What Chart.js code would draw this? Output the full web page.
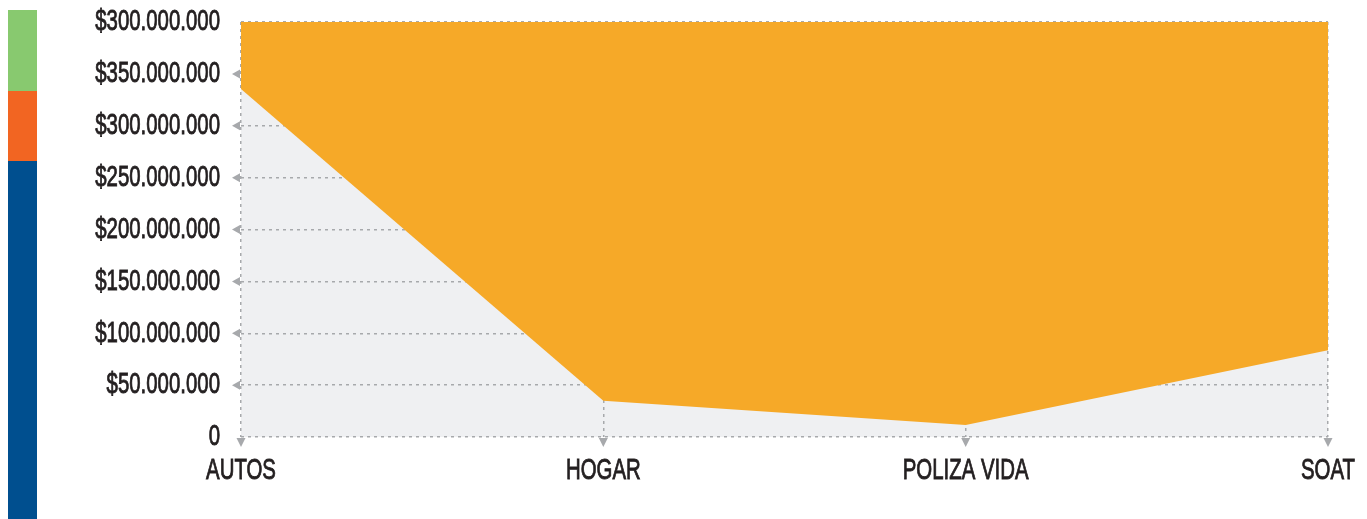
<!DOCTYPE html>
<html>
<head>
<meta charset="utf-8">
<script src="https://cdn.jsdelivr.net/npm/chart.js@4/dist/chart.umd.min.js"></script>
<style>
    html, body { margin: 0; padding: 0; background: #fff; }
    #wrap { position: relative; width: 1367px; height: 519px; }
    #side { position: absolute; left: 8px; top: 10px; width: 29px; height: 509px; }
    #side div { width: 100%; }
    #chartBox { position: absolute; left: 0; top: 0; width: 1367px; height: 519px; }
</style>
</head>
<body>
<div id="wrap">
    <div id="side">
        <div style="height:81px;background:#88c96f"></div>
        <div style="height:70px;background:#f26522"></div>
        <div style="height:358px;background:#004f8f"></div>
    </div>
    <div id="chartBox"><canvas id="areaChart"></canvas></div>
</div>
<script>
// --------------------------------------------------
//  DATA
// --------------------------------------------------
const categories = ["AUTOS", "HOGAR", "POLIZA VIDA", "SOAT"];
const premiumValues = [335500000, 35000000, 11600000, 83500000];
const yTickLabels = [
    "0", "$50.000.000", "$100.000.000", "$150.000.000", "$200.000.000",
    "$250.000.000", "$300.000.000", "$350.000.000", "$300.000.000"
];

const fontFamily = "'Liberation Sans', Arial, sans-serif";
const gridColor = "#a7a9ac";
const textSqueeze = 0.68;   // condensed look for the labels

// --------------------------------------------------
//  PLUGINS: plot background, arrow markers, narrow text
// --------------------------------------------------
const plotBackground = {
    id: "plotBackground",
    beforeDraw(chart) {
        const { ctx, chartArea: a } = chart;
        ctx.save();
        ctx.fillStyle = "#eff0f2";
        ctx.fillRect(a.left, a.top, a.right - a.left, a.bottom - a.top);
        ctx.restore();
    }
};

const narrowText = {
    id: "narrowText",
    beforeDraw(chart) {
        const ctx = chart.ctx;
        if (ctx._narrowed) return;
        const origFill = ctx.fillText;
        const origStroke = ctx.strokeText;
        ctx.fillText = function (t, x, y) {
            this.save();
            this.translate(x, y);
            this.scale(textSqueeze, 1);
            origFill.call(this, t, 0, 0);
            // a thin stroke gives the heavier weight of the original face
            this.strokeStyle = this.fillStyle;
            this.lineWidth = 0.9;
            this.setLineDash([]);
            origStroke.call(this, t, 0, 0);
            this.restore();
        };
        ctx._narrowed = true;
    }
};

const axisArrows = {
    id: "axisArrows",
    afterDraw(chart) {
        const { ctx, chartArea: a, scales } = chart;
        ctx.save();
        ctx.fillStyle = gridColor;
        // left arrows on value ticks
        scales.y.ticks.forEach((t, i) => {
            if (i === 0 || i === scales.y.ticks.length - 1) return;
            const y = scales.y.getPixelForTick(i);
            ctx.beginPath();
            ctx.moveTo(a.left - 9, y);
            ctx.lineTo(a.left - 1, y - 4.5);
            ctx.lineTo(a.left - 1, y + 4.5);
            ctx.closePath();
            ctx.fill();
        });
        // down arrows on categories
        scales.x.ticks.forEach((t, i) => {
            const x = scales.x.getPixelForTick(i);
            ctx.beginPath();
            ctx.moveTo(x - 4.5, a.bottom + 1);
            ctx.lineTo(x + 4.5, a.bottom + 1);
            ctx.lineTo(x, a.bottom + 10);
            ctx.closePath();
            ctx.fill();
        });
        ctx.restore();
    }
};

// --------------------------------------------------
//  CHART
// --------------------------------------------------
const tickFont = { family: fontFamily, size: 30 };

new Chart(document.getElementById("areaChart"), {
    type: "line",
    data: {
        labels: categories,
        datasets: [{
            data: premiumValues,
            fill: "end",
            backgroundColor: "#f6a928",
            borderWidth: 0,
            pointRadius: 0,
            tension: 0
        }]
    },
    options: {
        responsive: true,
        maintainAspectRatio: false,
        animation: false,
        layout: { padding: { top: 22, right: 39, left: 0, bottom: 0 } },
        plugins: {
            legend: { display: false },
            tooltip: { enabled: false }
        },
        scales: {
            x: {
                offset: false,
                afterFit: s => {
                    s.height = 82;
                    s.paddingLeft = 0;
                    s.paddingRight = 0;
                },
                grid: { color: gridColor, drawTicks: false, lineWidth: 1.5 },
                border: { display: false, dash: [3, 4] },
                ticks: {
                    padding: 16,
                    color: "#231f20",
                    font: tickFont,
                    maxRotation: 0,
                    autoSkip: false
                }
            },
            y: {
                min: 0,
                max: 400000000,
                afterFit: s => {
                    s.width = 241;
                    s.paddingTop = 0;
                    s.paddingBottom = 0;
                },
                grid: { color: gridColor, drawTicks: false, lineWidth: 1.5 },
                border: { display: false, dash: [3, 4] },
                ticks: {
                    stepSize: 50000000,
                    padding: 21,
                    color: "#231f20",
                    font: tickFont,
                    callback: (v, i) => yTickLabels[i]
                }
            }
        }
    },
    plugins: [narrowText, plotBackground, axisArrows]
});
</script>
</body>
</html>
